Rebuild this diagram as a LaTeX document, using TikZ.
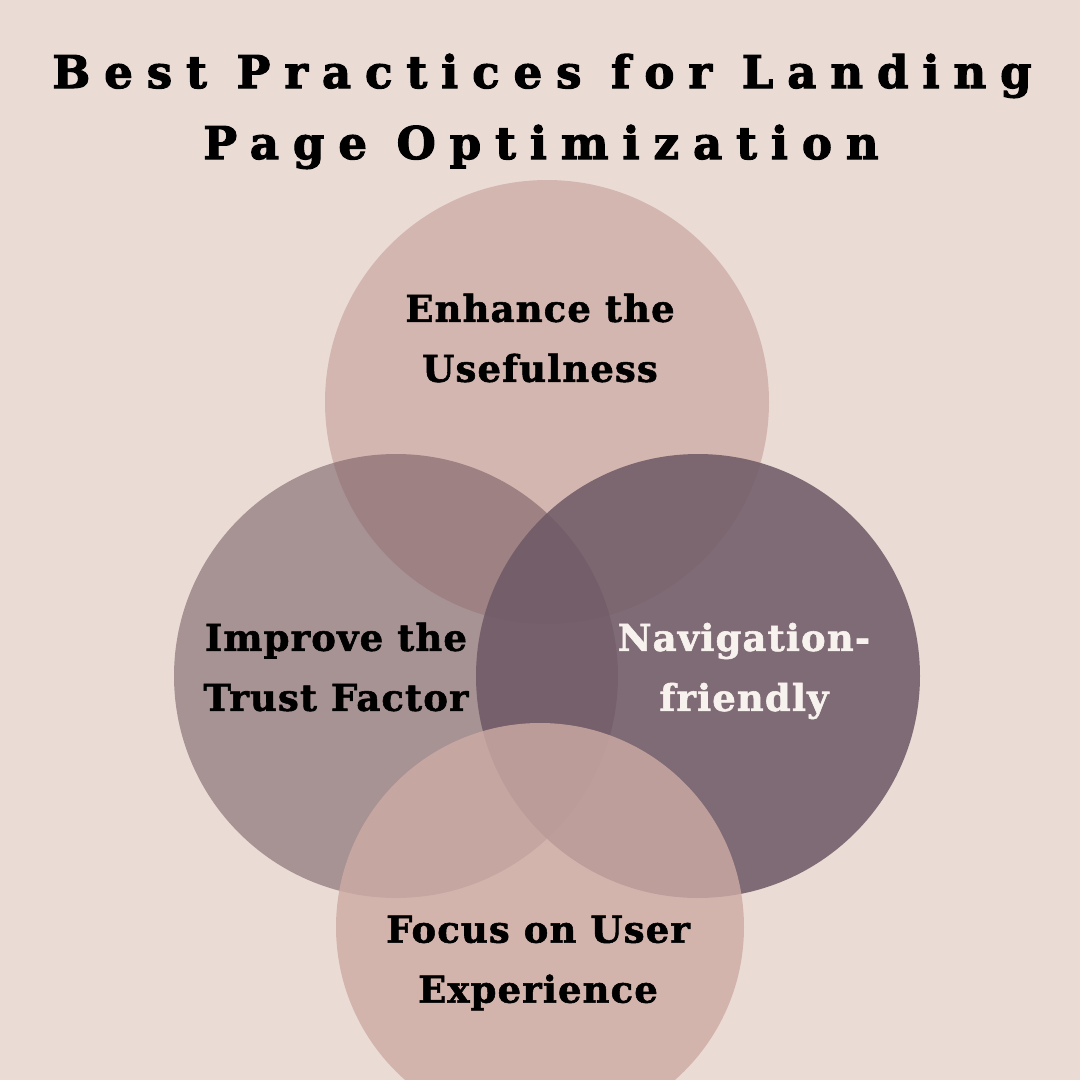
\documentclass[tikz,border=0pt]{standalone}
\usepackage{fontspec}
\setmainfont{DejaVu Serif}
\newfontfamily\headfont[LetterSpace=31,BoldFeatures={FakeBold=2.5}]{DejaVu Serif}
\newfontfamily\labelfont[LetterSpace=3,BoldFeatures={FakeBold=1.5}]{DejaVu Serif}
\definecolor{BackClr}{HTML}{EADCD5}
\definecolor{TopClr}{HTML}{D4B6B0}
\definecolor{LeftClr}{HTML}{70565F}
\definecolor{RightClr}{HTML}{6D5865}
\definecolor{BottomClr}{HTML}{CEABA4}
\definecolor{LightTxt}{HTML}{F8F2EE}

\begin{document}
\begin{tikzpicture}[x=1pt,y=-1pt,
  disc/.style={circle,draw=none,inner sep=0pt,minimum size=444pt},
  title/.style={anchor=base,inner sep=0pt,font=\headfont\bfseries\fontsize{45}{50}\selectfont},
  topic/.style={align=center,inner sep=0pt,font=\labelfont\bfseries\fontsize{37}{60}\selectfont}]
\fill[BackClr] (0,0) rectangle (1080,1080);
\useasboundingbox (0,0) rectangle (1080,1080);
\clip (0,0) rectangle (1080,1080);

% the four circles
\node[disc,fill=TopClr] (useful) at (547,402) {};
\node[disc,fill=LeftClr,fill opacity=0.55] (trust) at (396,676) {};
\node[disc,fill=RightClr,fill opacity=0.85] (navi) at (698,676) {};
\node[disc,fill=BottomClr,fill opacity=0.8,minimum size=408pt] (ux) at (540,927) {};

% heading
\node[title] (head1) at (542,88) {Best Practices for Landing};
\node[title] (head2) at (541,159) {Page Optimization};

% texts
\node[topic] (usefultxt) at (540,338) {Enhance the\\Usefulness};
\node[topic] (trusttxt) at (336,667) {Improve the\\Trust Factor};
\node[topic,text=LightTxt] (navitxt) at (744,671) {Navigation-\\friendly};
\node[topic] (uxtxt) at (538,963) {Focus on User\\Experience};
\end{tikzpicture}
\end{document}
